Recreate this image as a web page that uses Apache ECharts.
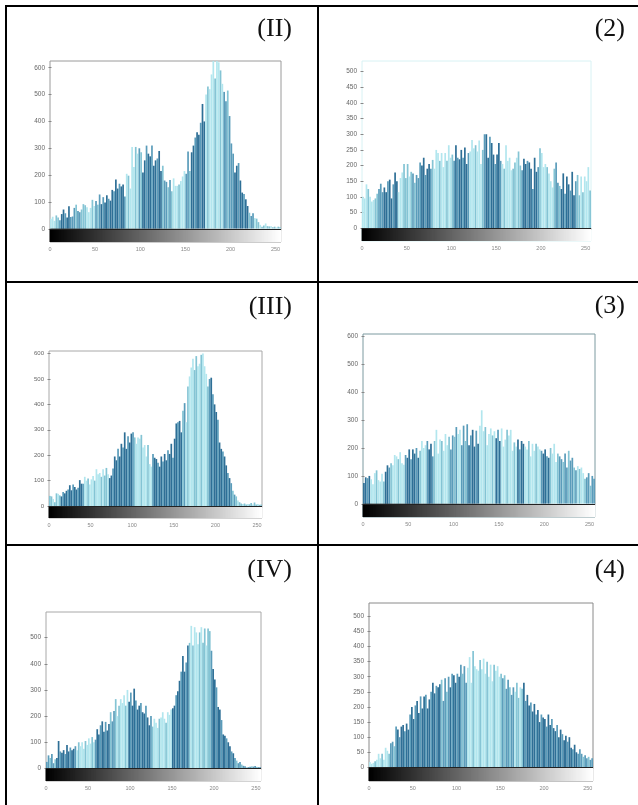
<!DOCTYPE html>
<html><head><meta charset="utf-8">
<style>html,body{margin:0;padding:0;background:#fff}
#c,#f{position:absolute;left:0;top:0;width:638px;height:805px}
#c{filter:blur(0.5px)}</style>
<script src="https://cdn.jsdelivr.net/npm/echarts@6/dist/echarts.min.js"></script>
</head><body><div id="c"></div><div id="f"></div>
<script>
const labels = ["(II)","(2)","(III)","(3)","(IV)","(4)"];
const xTicks = [0,50,100,150,200,250];
const yTicksA = [0,100,200,300,400,500,600];
const yTicksB = [0,50,100,150,200,250,300,350,400,450,500];
const yTicksC = [0,100,200,300,400,500];

// histogram heights, one value for every second grey level (0,2,4...254)
const histII = [38,45,30,50,42,32,55,72,58,42, 84,44,46,78,90,66,62,72,92,88, 80,62,78,108,85,104,90,128,92,118,
 98,125,112,105,145,140,184,150,168,158, 165,120,205,198,150,305,230,305,280,300, 285,210,255,310,280,270,310,235,255,262,
 290,215,235,180,175,155,182,140,188,160, 160,165,178,195,215,205,288,215,285,310, 340,360,350,395,465,400,500,530,520,575,
 630,560,640,620,590,540,510,475,515,420, 318,280,210,235,245,180,135,130,110,85, 60,48,58,40,38,25,15,8,12,20, 10,9,10,6,8,5,8,6];
const hist2 = [100,95,140,125,100,85,90,95,110,125, 142,115,130,115,150,155,95,140,178,150, 115,160,178,205,160,205,165,180,175,145,
 170,160,210,200,225,170,190,205,190,218, 190,250,240,215,240,195,240,215,265,225, 235,215,265,225,220,250,225,258,205,240,
 245,282,255,265,245,280,205,250,300,300, 225,292,272,235,205,235,272,215,205,190, 265,215,225,185,190,210,225,245,200,185,
 222,205,215,210,190,125,225,180,195,255, 240,195,205,195,175,150,130,190,210,145, 135,125,175,110,165,140,120,180,105,150, 170,105,165,115,165,150,195,120];
const histIII = [40,38,28,15,50,48,42,38,55,50, 60,65,82,62,85,75,65,72,102,88, 88,115,100,108,85,105,118,100,145,125,
 130,115,145,120,150,125,110,120,148,195, 180,225,195,245,230,290,225,275,250,285, 290,270,245,270,265,280,230,240,195,240,
 165,155,205,190,185,170,155,195,175,205, 180,220,205,245,190,265,325,330,335,290, 375,405,330,470,510,545,580,535,590,550,
 560,595,600,550,520,470,500,505,440,400, 370,340,250,225,215,195,160,130,110,90, 60,45,38,22,15,10,8,10,6,8, 7,12,6,14,6,8,5,6];
const hist3 = [75,95,92,100,88,70,110,120,85,80, 108,80,115,138,130,145,138,175,170,160, 185,145,140,175,165,195,160,195,180,200,
 165,190,225,200,210,225,195,215,170,225, 265,180,230,225,190,250,210,240,195,245, 240,275,250,265,210,280,225,285,210,245,
 265,205,262,215,280,335,260,275,210,250, 270,245,260,235,265,225,270,205,230,265, 245,265,190,220,205,230,195,225,215,205,
 195,225,170,215,190,215,205,195,190,180, 195,170,165,200,180,215,150,180,170,160, 150,180,130,190,155,165,130,120,135,125, 130,110,90,95,110,65,100,90];
const histIV = [25,50,40,55,20,35,40,105,65,60, 70,55,90,65,80,70,75,85,70,100, 85,100,75,105,90,115,95,120,100,110,
 150,130,165,180,140,178,145,170,215,180, 220,265,200,240,265,250,280,240,300,255, 290,240,305,260,225,240,250,215,210,240,
 195,165,200,160,190,175,155,190,195,215, 190,175,215,205,225,230,240,280,295,335, 370,430,370,405,470,480,545,470,540,520,
 475,520,540,480,535,470,535,525,450,380, 340,310,235,225,185,130,125,115,100,85, 65,58,40,30,20,25,15,10,8,4, 5,6,8,7,9,6,5,5];
const hist4 = [18,12,15,20,25,45,30,45,25,65, 55,45,80,85,70,135,125,100,135,140, 120,145,125,175,200,160,205,220,180,235,
 195,235,240,195,225,250,280,245,270,265, 275,290,220,295,250,300,265,310,305,280, 310,300,340,310,335,280,330,365,280,385,
 335,325,320,355,325,360,310,350,300,340, 285,340,320,335,300,310,295,305,260,290, 265,240,265,250,280,230,265,260,280,220,
 240,205,215,185,210,175,190,150,175,165, 160,135,175,140,160,130,120,140,100,125, 110,90,105,85,100,65,60,75,50,45, 60,45,35,40,30,35,25,30];

// shade bands across grey levels: start level, shade index
const bandsII = [[0,0],[6,1],[10,3],[24,2],[36,1],[40,0],[50,2],[56,3],[84,0],[98,2],[102,3],[124,2],[134,0],[150,2],[156,3],[172,1],[176,0],[188,1],[192,2],[202,3],[220,2],[226,1]];
const bands2 = [[0,0],[16,2],[22,3],[40,0],[48,1],[56,2],[64,3],[78,0],[100,2],[104,3],[120,0],[136,3],[156,0],[166,1],[178,3],[198,0],[216,2],[222,3],[240,1],[244,0]];
const bandsIII = [[0,1],[14,3],[42,0],[66,1],[72,3],[102,0],[124,3],[160,2],[164,0],[176,1],[180,0],[190,2],[194,3],[218,2],[224,1]];
const bands3 = [[0,3],[8,0],[24,3],[30,0],[46,3],[62,0],[70,3],[78,0],[94,2],[104,0],[108,2],[116,3],[128,0],[146,3],[152,0],[170,3],[178,0],[196,3],[206,0],[216,2],[236,0],[244,2]];
const bandsIV = [[0,2],[12,3],[36,0],[58,3],[76,2],[84,0],[98,3],[126,0],[150,3],[170,1],[176,0],[184,1],[196,3],[224,2]];
const bands4 = [[0,0],[24,2],[32,3],[82,2],[92,3],[104,2],[112,0],[152,2],[166,1],[176,3],[240,2]];

const shades = ["#b2e6ee","#84c4d4","#5a9cba","#2e6f96"];
const frameColors = ["#9a9a9a","#d8f2f4","#a8a8a8","#7d9aa0","#a8a8a8","#8a8a8a"];

const panels = [
 {hist:histII, bands:bandsII, ticks:yTicksA, left:50, right:281, top:61, zero:229, bottom:242, yMax:625, yMin:-49, lab:[292,29], fs:6.5},
 {hist:hist2, bands:bands2, ticks:yTicksB, left:362, right:591, top:61, zero:228, bottom:241, yMax:534, yMin:-41, lab:[625,29], fs:6.5},
 {hist:histIII, bands:bandsIII, ticks:yTicksA, left:49, right:262, top:351, zero:506, bottom:518, yMax:610, yMin:-47, lab:[292,307], fs:6},
 {hist:hist3, bands:bands3, ticks:yTicksA, left:363, right:595, top:334, zero:504, bottom:517, yMax:608, yMin:-47, lab:[625,306], fs:6.5},
 {hist:histIV, bands:bandsIV, ticks:yTicksC, left:46, right:261, top:612, zero:768, bottom:781, yMax:598, yMin:-48, lab:[292,570], fs:6.5},
 {hist:hist4, bands:bands4, ticks:yTicksB, left:369, right:593, top:603, zero:767, bottom:781, yMax:544, yMin:-45, lab:[625,570], fs:6.5}
];
const greyLevels = Array.from({length:256},(_,i)=>i);

function shadeOf(bands, level){
  let s = 0;
  for (const b of bands) if (level >= b[0]) s = b[1];
  return s;
}

const grids=[], xAxes=[], yAxes=[], series=[], graphics=[];
panels.forEach((p,k)=>{
  grids.push({left:p.left, top:p.top, width:p.right-p.left, height:p.bottom-p.top,
    show:true, borderColor:frameColors[k], borderWidth:1, backgroundColor:'#fff'});
  const tickLine={lineStyle:{color:'#888',width:1}};
  xAxes.push({gridIndex:k,type:'value',min:0,max:256,interval:50,position:'bottom',
    axisLine:{show:false},splitLine:{show:false},
    axisTick:{show:false},
    axisLabel:{fontSize:5.5,color:'#888',margin:4,fontFamily:'Liberation Sans',showMaxLabel:false,
      formatter:v=>xTicks.includes(v)?String(v):''}});
  xAxes.push({gridIndex:k,type:'value',min:0,max:256,interval:50,position:'top',
    axisLine:{show:false},splitLine:{show:false},axisLabel:{show:false},
    axisTick:{show:true,inside:true,length:1.5,...tickLine}});
  yAxes.push({gridIndex:k,type:'value',min:p.yMin,max:p.yMax,position:'left',
    axisLine:{show:false},splitLine:{show:false},
    axisTick:{show:true,inside:true,length:1.5,customValues:p.ticks,...tickLine},
    axisLabel:{fontSize:p.fs,color:'#666',margin:5,fontFamily:'Liberation Sans',customValues:p.ticks}});
  yAxes.push({gridIndex:k,type:'value',min:p.yMin,max:p.yMax,position:'right',
    axisLine:{show:false},splitLine:{show:false},axisLabel:{show:false},
    axisTick:{show:true,inside:true,length:1.5,customValues:p.ticks,...tickLine}});
  const xi=k*2, yi=k*2;
  series.push({type:'bar',name:'strip'+k,xAxisIndex:xi,yAxisIndex:yi,silent:true,barWidth:2.5,
    data:greyLevels.map(l=>[l+0.5,p.yMin]),
    itemStyle:{color:o=>{const v=greyLevels[o.dataIndex];return `rgb(${v},${v},${v})`}},
    markLine:{silent:true,symbol:'none',label:{show:false},animation:false,
      lineStyle:{color:'#222',width:1,type:'solid'},data:[{yAxis:0}]},
    z:3,animation:false});
  series.push({type:'bar',name:'hist'+k,xAxisIndex:xi,yAxisIndex:yi,silent:true,barWidth:1.7,barGap:'-100%',
    data:p.hist.map((v,i)=>[i*2+1,v]),
    itemStyle:{color:o=>{
      const i=o.dataIndex, s=shadeOf(p.bands,i*2);
      if (s===0) return shades[i%4===3?1:0];
      return shades[i%3===2? s-1 : s];
    }},
    z:2,animation:false});
  graphics.push({type:'text',x:p.lab[0],y:p.lab[1],silent:true,
    style:{text:labels[k],font:'26px "Liberation Serif"',textAlign:'right',textVerticalAlign:'middle',fill:'#111'}});
});

const rules=[[5,6,638,6],[5,282,638,282],[5,545,638,545],[6,5,6,805],[318,5,318,805]];
rules.forEach(r=>graphics.push({type:'line',silent:true,shape:{x1:r[0],y1:r[1],x2:r[2],y2:r[3]},
  style:{stroke:'#000',lineWidth:2}}));

const chart=echarts.init(document.getElementById('c'),null,{renderer:'canvas'});
chart.setOption({animation:false,tooltip:{show:false},legend:{show:false},grid:grids,xAxis:xAxes,yAxis:yAxes,series});
const frame=echarts.init(document.getElementById('f'),null,{renderer:'canvas'});
frame.setOption({animation:false,backgroundColor:'transparent',graphic:graphics});
</script></body></html>
